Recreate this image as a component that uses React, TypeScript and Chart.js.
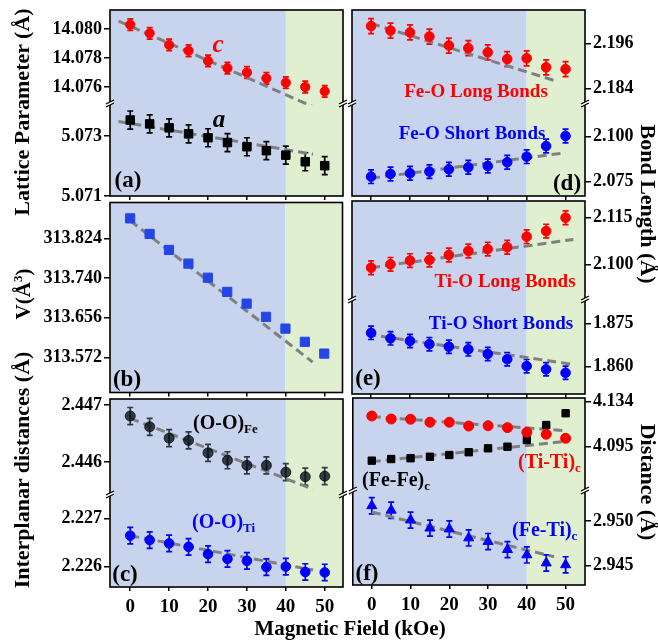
import React, { useEffect, useRef } from 'react';
import { Chart, registerables } from 'chart.js';
Chart.register(...registerables);

const FONT = '"Liberation Serif", "Times New Roman", serif';

// ---------- data ----------
const FIELD = [0, 5, 10, 15, 20, 25, 30, 35, 40, 45, 50];
const X_TICKS = [0, 10, 20, 30, 40, 50];

// (a) lattice parameters
const LATTICE_C = [14.0803, 14.0797, 14.0789, 14.0785, 14.0778, 14.0773, 14.077, 14.0766, 14.0763, 14.076, 14.0757];
const LATTICE_C_ERR = 0.0004;
const LATTICE_C_FIT_X = [-3, 47];
const LATTICE_C_FIT = [14.08055, 14.07464];
const LATTICE_A = [5.07353, 5.0734, 5.07327, 5.07307, 5.07294, 5.07278, 5.07264, 5.07251, 5.07236, 5.07214, 5.07201];
const LATTICE_A_ERR = 0.0003;
const LATTICE_A_FIT_X = [-3, 47];
const LATTICE_A_FIT = [5.07348, 5.07239];
const TICKS_C = [14.076, 14.078, 14.08];
const TICKS_A = [5.071, 5.072, 5.073];

// (b) volume
const VOLUME = [313.867, 313.834, 313.8, 313.771, 313.741, 313.711, 313.686, 313.658, 313.633, 313.605, 313.58];
const VOLUME_FIT_X = [0, 47];
const VOLUME_FIT = [313.862, 313.562];
const TICKS_V = [313.572, 313.656, 313.74, 313.824];

// (c) interplanar distances
const OO_FE = [2.44681, 2.44662, 2.44642, 2.44638, 2.44616, 2.44603, 2.44594, 2.44594, 2.44582, 2.44574, 2.44575];
const OO_FE_ERR = 0.00015;
const OO_FE_FIT_X = [0, 47];
const OO_FE_FIT = [2.44677, 2.44552];
const OO_TI = [2.22664, 2.22655, 2.22648, 2.22641, 2.22626, 2.22616, 2.22612, 2.22599, 2.226, 2.22589, 2.22588];
const OO_TI_ERR = 0.00017;
const OO_TI_FIT_X = [0, 47];
const OO_TI_FIT = [2.22664, 2.22593];
const TICKS_OOFE = [2.446, 2.447];
const TICKS_OOTI = [2.226, 2.227];

// (d) Fe-O bonds
const FEO_LONG = [2.2006, 2.1994, 2.1989, 2.1978, 2.1954, 2.1947, 2.1936, 2.1918, 2.192, 2.1896, 2.1891];
const FEO_LONG_ERR = 0.002;
const FEO_LONG_FIT_X = [0, 48];
const FEO_LONG_FIT = [2.2013, 2.1858];
const FEO_SHORT = [2.0778, 2.0793, 2.0797, 2.0806, 2.0819, 2.083, 2.0837, 2.0858, 2.0889, 2.0948, 2.1004];
const FEO_SHORT_ERR = 0.0038;
const FEO_SHORT_FIT_X = [0, 50];
const FEO_SHORT_FIT = [2.0769, 2.0911];
const TICKS_FEOL = [2.184, 2.196];
const TICKS_FEOS = [2.075, 2.1];

// (e) Ti-O bonds
const TIO_LONG = [2.0989, 2.1, 2.1012, 2.1014, 2.103, 2.1043, 2.1049, 2.1055, 2.1089, 2.1107, 2.115];
const TIO_LONG_ERR = 0.0022;
const TIO_LONG_FIT_X = [0, 52];
const TIO_LONG_FIT = [2.0989, 2.108];
const TIO_SHORT = [1.8717, 1.8698, 1.8689, 1.8678, 1.8669, 1.866, 1.8644, 1.8626, 1.8602, 1.8591, 1.8579];
const TIO_SHORT_ERR = 0.0023;
const TIO_SHORT_FIT_X = [-1, 52];
const TIO_SHORT_FIT = [1.8712, 1.8608];
const TICKS_TIOL = [2.1, 2.115];
const TICKS_TIOS = [1.86, 1.875];

// (f) distances
const TITI = [4.1216, 4.119, 4.1188, 4.1162, 4.1162, 4.1129, 4.1132, 4.1115, 4.1075, 4.1058, 4.1023];
const TITI_FIT_X = [0, 50];
const TITI_FIT = [4.121, 4.1089];
const FEFE = [4.0829, 4.0843, 4.085, 4.0863, 4.0878, 4.0902, 4.0936, 4.095, 4.1008, 4.1138, 4.124];
const FEFE_FIT_X = [0, 51];
const FEFE_FIT = [4.082, 4.0999];
const FETI = [2.9517, 2.9512, 2.9501, 2.9492, 2.9491, 2.9481, 2.9477, 2.9468, 2.9462, 2.9453, 2.9451];
const FETI_ERR = 0.0009;
const FETI_FIT_X = [0, 47];
const FETI_FIT = [2.951, 2.946];
const TICKS_FEFE = [4.095, 4.134];
const TICKS_FETI = [2.945, 2.95];

const REGION_SPLIT = 40;

// ---------- styles ----------
const RED = '#ff0000';
const BLUE = '#0000ff';
const BLACK = '#000000';
const VBLUE = '#2446e6';
const DARK = 'rgba(0,8,16,0.76)';
const FIT_COLOR = '#808080';
const BG_BLUE = '#c8d4ee';
const BG_GREEN = '#dfefcf';

type Seg = { min: number; max: number; ticks: number[]; weight: number };
type Ser = { y: number[]; color: string; style: string; r: number; err?: number; seg: number };
type Fit = { x: number[]; y: number[]; seg: number };
type Panel = {
  side: 'left' | 'right';
  box: { left: number; top: number; width: number; height: number };
  padding: { left: number; right: number; top: number; bottom: number };
  xh: number;
  yw: number;
  xmin: number;
  xmax: number;
  showX: boolean;
  segs: Seg[];
  series: Ser[];
  fits: Fit[];
};

const LEFT_BOX = { left: 0, width: 350 };
const RIGHT_BOX = { left: 346, width: 312 };

const PANELS: Panel[] = [
  {
    side: 'left', box: { ...LEFT_BOX, top: 0, height: 210 }, padding: { left: 0, right: 7, top: 10, bottom: 0 },
    xh: 14, yw: 110, xmin: -5.2, xmax: 54.7, showX: false,
    segs: [
      { min: 14.07476, max: 14.08131, ticks: TICKS_C, weight: 95 },
      { min: 5.071, max: 5.07403, ticks: TICKS_A, weight: 91 },
    ],
    series: [
      { y: LATTICE_C, color: RED, style: 'circle', r: 4.6, err: LATTICE_C_ERR, seg: 0 },
      { y: LATTICE_A, color: BLACK, style: 'rect', r: 6, err: LATTICE_A_ERR, seg: 1 },
    ],
    fits: [
      { x: LATTICE_C_FIT_X, y: LATTICE_C_FIT, seg: 0 },
      { x: LATTICE_A_FIT_X, y: LATTICE_A_FIT, seg: 1 },
    ],
  },
  {
    side: 'left', box: { ...LEFT_BOX, top: 195, height: 205 }, padding: { left: 0, right: 7, top: 6, bottom: 0 },
    xh: 6, yw: 110, xmin: -5.2, xmax: 54.7, showX: false,
    segs: [{ min: 313.4974, max: 313.9007, ticks: TICKS_V, weight: 1 }],
    series: [{ y: VOLUME, color: VBLUE, style: 'rect', r: 6.5, seg: 0 }],
    fits: [{ x: VOLUME_FIT_X, y: VOLUME_FIT, seg: 0 }],
  },
  {
    side: 'left', box: { ...LEFT_BOX, top: 389, height: 252 }, padding: { left: 0, right: 7, top: 10, bottom: 0 },
    xh: 54, yw: 110, xmin: -5.2, xmax: 54.7, showX: true,
    segs: [
      { min: 2.4454, max: 2.44711, ticks: TICKS_OOFE, weight: 97 },
      { min: 2.22558, max: 2.22746, ticks: TICKS_OOTI, weight: 91 },
    ],
    series: [
      { y: OO_FE, color: DARK, style: 'circle', r: 5, err: OO_FE_ERR, seg: 0 },
      { y: OO_TI, color: BLUE, style: 'circle', r: 4.8, err: OO_TI_ERR, seg: 1 },
    ],
    fits: [
      { x: OO_FE_FIT_X, y: OO_FE_FIT, seg: 0 },
      { x: OO_TI_FIT_X, y: OO_TI_FIT, seg: 1 },
    ],
  },
  {
    side: 'right', box: { ...RIGHT_BOX, top: 0, height: 210 }, padding: { left: 6, right: 0, top: 10, bottom: 0 },
    xh: 14, yw: 73, xmin: -4.9, xmax: 55, showX: false,
    segs: [
      { min: 2.17955, max: 2.20488, ticks: TICKS_FEOL, weight: 95 },
      { min: 2.06706, max: 2.11761, ticks: TICKS_FEOS, weight: 91 },
    ],
    series: [
      { y: FEO_LONG, color: RED, style: 'circle', r: 4.8, err: FEO_LONG_ERR, seg: 0 },
      { y: FEO_SHORT, color: BLUE, style: 'circle', r: 4.8, err: FEO_SHORT_ERR, seg: 1 },
    ],
    fits: [
      { x: FEO_LONG_FIT_X, y: FEO_LONG_FIT, seg: 0 },
      { x: FEO_SHORT_FIT_X, y: FEO_SHORT_FIT, seg: 1 },
    ],
  },
  {
    side: 'right', box: { ...RIGHT_BOX, top: 195, height: 205 }, padding: { left: 6, right: 0, top: 6, bottom: 0 },
    xh: 6, yw: 73, xmin: -4.9, xmax: 55, showX: false,
    segs: [
      { min: 2.08819, max: 2.12038, ticks: TICKS_TIOL, weight: 100 },
      { min: 1.85057, max: 1.88271, ticks: TICKS_TIOS, weight: 93 },
    ],
    series: [
      { y: TIO_LONG, color: RED, style: 'circle', r: 4.8, err: TIO_LONG_ERR, seg: 0 },
      { y: TIO_SHORT, color: BLUE, style: 'circle', r: 4.8, err: TIO_SHORT_ERR, seg: 1 },
    ],
    fits: [
      { x: TIO_LONG_FIT_X, y: TIO_LONG_FIT, seg: 0 },
      { x: TIO_SHORT_FIT_X, y: TIO_SHORT_FIT, seg: 1 },
    ],
  },
  {
    side: 'right', box: { ...RIGHT_BOX, top: 388, height: 253 }, padding: { left: 6, right: 0, top: 10, bottom: 0 },
    xh: 56, yw: 73, xmin: -4.9, xmax: 55, showX: true,
    segs: [
      { min: 4.05574, max: 4.13721, ticks: TICKS_FEFE, weight: 94 },
      { min: 2.94284, max: 2.95324, ticks: TICKS_FETI, weight: 93 },
    ],
    series: [
      { y: TITI, color: RED, style: 'circle', r: 5, seg: 0 },
      { y: FEFE, color: BLACK, style: 'rect', r: 5.2, seg: 0 },
      { y: FETI, color: BLUE, style: 'triangle', r: 5.8, err: FETI_ERR, seg: 1 },
    ],
    fits: [
      { x: TITI_FIT_X, y: TITI_FIT, seg: 0 },
      { x: FEFE_FIT_X, y: FEFE_FIT, seg: 0 },
      { x: FETI_FIT_X, y: FETI_FIT, seg: 1 },
    ],
  },
];

// ---------- plugins ----------
const panelPlugin = {
  id: 'panelDeco',
  beforeDraw(chart: any) {
    const { ctx, chartArea: a, scales } = chart;
    const xs = scales.x;
    const xs40 = xs.getPixelForValue(REGION_SPLIT);
    ctx.save();
    ctx.fillStyle = BG_BLUE;
    ctx.fillRect(a.left, a.top, xs40 - a.left, a.bottom - a.top);
    ctx.fillStyle = BG_GREEN;
    ctx.fillRect(xs40, a.top, a.right - xs40, a.bottom - a.top);
    ctx.restore();
  },
  beforeDatasetsDraw(chart: any) {
    const { ctx } = chart;
    chart.data.datasets.forEach((ds: any, i: number) => {
      if (!ds.errorBar) return;
      const meta = chart.getDatasetMeta(i);
      const ys = chart.scales[ds.yAxisID];
      ctx.save();
      ctx.strokeStyle = ds.borderColor;
      ctx.lineWidth = 1.7;
      ds.data.forEach((p: any, j: number) => {
        const x = meta.data[j].x;
        const y1 = ys.getPixelForValue(p.y + ds.errorBar);
        const y2 = ys.getPixelForValue(p.y - ds.errorBar);
        ctx.beginPath();
        ctx.moveTo(x, y1);
        ctx.lineTo(x, y2);
        ctx.moveTo(x - 3, y1);
        ctx.lineTo(x + 3, y1);
        ctx.moveTo(x - 3, y2);
        ctx.lineTo(x + 3, y2);
        ctx.stroke();
      });
      ctx.restore();
    });
  },
  afterDraw(chart: any) {
    const { ctx, chartArea: a } = chart;
    ctx.save();
    ctx.strokeStyle = '#000';
    ctx.lineWidth = 1.6;
    ctx.strokeRect(a.left, a.top, a.right - a.left, a.bottom - a.top);
    const breaks: number[] = chart.options.plugins.panelDeco.breaks
      .map((id: string) => chart.scales[id].bottom);
    breaks.forEach((y: number) => {
      [a.left, a.right].forEach((x: number) => {
        ctx.fillStyle = '#fff';
        ctx.beginPath();
        ctx.moveTo(x - 4, y + 2);
        ctx.lineTo(x + 4, y - 2);
        ctx.lineTo(x + 4, y - 5);
        ctx.lineTo(x - 4, y - 1);
        ctx.closePath();
        ctx.fill();
        ctx.lineWidth = 1.3;
        ctx.beginPath();
        ctx.moveTo(x - 4, y + 2);
        ctx.lineTo(x + 4, y - 2);
        ctx.moveTo(x - 4, y - 1);
        ctx.lineTo(x + 4, y - 5);
        ctx.stroke();
      });
    });
    ctx.restore();
  },
};

function makeConfig(p: Panel): any {
  const tickFont = { family: FONT, size: 18, weight: 'bold' as const };
  const scales: any = {
    x: {
      type: 'linear',
      min: p.xmin,
      max: p.xmax,
      afterBuildTicks: (s: any) => { s.ticks = X_TICKS.map((v) => ({ value: v })); },
      ticks: { display: p.showX, font: { ...tickFont, size: 19 }, color: '#000', padding: 5, maxRotation: 0 },
      grid: { drawOnChartArea: false, drawTicks: true, tickLength: 4, color: '#000', lineWidth: 1.5 },
      border: { display: false },
      afterFit: (s: any) => { s.height = p.xh; s.paddingLeft = 0; s.paddingRight = 0; },
    },
  };
  const segIds = p.segs.map((_, i) => 'y' + i);
  const order = p.side === 'left' ? [...p.segs.keys()].reverse() : [...p.segs.keys()];
  order.forEach((i) => {
    const seg = p.segs[i];
    scales[segIds[i]] = {
      type: 'linear',
      position: p.side,
      stack: 'ystack',
      stackWeight: seg.weight,
      min: seg.min,
      max: seg.max,
      afterBuildTicks: (s: any) => { s.ticks = seg.ticks.map((v) => ({ value: v })); },
      ticks: { font: tickFont, color: '#000', padding: 2, callback: (v: any) => Number(v).toFixed(3) },
      grid: { drawOnChartArea: false, drawTicks: true, tickLength: 6, color: '#000', lineWidth: 1.5 },
      border: { display: false },
      afterFit: (s: any) => { s.width = p.yw; s.paddingTop = 0; s.paddingBottom = 0; },
    };
  });
  const datasets: any[] = [];
  p.series.forEach((s) => {
    datasets.push({
      data: FIELD.map((x, j) => ({ x, y: s.y[j] })),
      yAxisID: segIds[s.seg],
      pointStyle: s.style,
      pointRadius: s.r,
      backgroundColor: s.color,
      borderColor: s.color,
      borderWidth: 1,
      showLine: false,
      errorBar: s.err,
    });
  });
  p.fits.forEach((f) => {
    datasets.push({
      data: f.x.map((x, j) => ({ x, y: f.y[j] })),
      yAxisID: segIds[f.seg],
      showLine: true,
      pointRadius: 0,
      borderColor: FIT_COLOR,
      borderWidth: 3,
      borderDash: [9, 5],
      fill: false,
    });
  });
  return {
    type: 'scatter',
    data: { datasets },
    options: {
      responsive: false,
      animation: false,
      devicePixelRatio: 1,
      layout: { padding: p.padding },
      scales,
      plugins: {
        legend: { display: false },
        tooltip: { enabled: false },
        panelDeco: { breaks: segIds.slice(0, -1) },
      },
    },
    plugins: [panelPlugin],
  };
}

const txt = (extra: React.CSSProperties): React.CSSProperties => ({
  position: 'absolute',
  fontFamily: FONT,
  fontWeight: 'bold',
  whiteSpace: 'nowrap',
  lineHeight: 1,
  ...extra,
});
const centered = 'translate(-50%,-50%)';
const subStyle: React.CSSProperties = { fontSize: 13, verticalAlign: -4 };

export default function App() {
  const refs = [useRef<HTMLCanvasElement>(null), useRef<HTMLCanvasElement>(null), useRef<HTMLCanvasElement>(null),
    useRef<HTMLCanvasElement>(null), useRef<HTMLCanvasElement>(null), useRef<HTMLCanvasElement>(null)];
  useEffect(() => {
    const charts = PANELS.map((p, i) => new Chart(refs[i].current as HTMLCanvasElement, makeConfig(p)));
    return () => charts.forEach((c) => c.destroy());
  }, []);
  return (
    <div style={{ position: 'absolute', left: 0, top: 0, width: 658, height: 641, background: '#fff', overflow: 'hidden' }}>
      {PANELS.map((p, i) => (
        <canvas key={i} ref={refs[i]} width={p.box.width} height={p.box.height}
          style={{ position: 'absolute', left: p.box.left, top: p.box.top, width: p.box.width, height: p.box.height }} />
      ))}
      {/* axis titles */}
      <div style={txt({ left: 22, top: 112, fontSize: 22, transform: centered + ' rotate(-90deg)' })}>Lattice Parameter (Å)</div>
      <div style={txt({ left: 22, top: 294, fontSize: 21, transform: centered + ' rotate(-90deg)' })}>V(Å<sup style={{ fontSize: 13 }}>3</sup>)</div>
      <div style={txt({ left: 22, top: 470, fontSize: 22, transform: centered + ' rotate(-90deg)' })}>Interplanar distances (Å)</div>
      <div style={txt({ left: 648, top: 204, fontSize: 22, transform: centered + ' rotate(90deg)' })}>Bond Length (Å)</div>
      <div style={txt({ left: 648, top: 482, fontSize: 22, transform: centered + ' rotate(90deg)' })}>Distance (Å)</div>
      <div style={txt({ left: 350, top: 628, fontSize: 21, transform: centered })}>Magnetic Field (kOe)</div>
      {/* panel letters */}
      <div style={txt({ left: 128, top: 179, fontSize: 23, transform: centered })}>(a)</div>
      <div style={txt({ left: 127, top: 378, fontSize: 23, transform: centered })}>(b)</div>
      <div style={txt({ left: 125, top: 573, fontSize: 23, transform: centered })}>(c)</div>
      <div style={txt({ left: 567, top: 182, fontSize: 23, transform: centered })}>(d)</div>
      <div style={txt({ left: 368, top: 377, fontSize: 23, transform: centered })}>(e)</div>
      <div style={txt({ left: 367, top: 572, fontSize: 23, transform: centered })}>(f)</div>
      {/* annotations */}
      <div style={txt({ left: 218, top: 43, fontSize: 25, fontStyle: 'italic', color: RED, transform: centered })}>c</div>
      <div style={txt({ left: 219, top: 118, fontSize: 25, fontStyle: 'italic', color: BLACK, transform: centered })}>a</div>
      <div style={txt({ left: 193, top: 423, fontSize: 20, color: BLACK, transform: 'translate(0,-50%)' })}>(O-O)<span style={subStyle}>Fe</span></div>
      <div style={txt({ left: 192, top: 522, fontSize: 20, color: BLUE, transform: 'translate(0,-50%)' })}>(O-O)<span style={subStyle}>Ti</span></div>
      <div style={txt({ left: 476, top: 90, fontSize: 19, color: RED, transform: centered })}>Fe-O Long Bonds</div>
      <div style={txt({ left: 472, top: 132, fontSize: 19, color: BLUE, transform: centered })}>Fe-O Short Bonds</div>
      <div style={txt({ left: 505, top: 280, fontSize: 19, color: RED, transform: centered })}>Ti-O Long Bonds</div>
      <div style={txt({ left: 501, top: 322, fontSize: 19, color: BLUE, transform: centered })}>Ti-O Short Bonds</div>
      <div style={txt({ left: 518, top: 462, fontSize: 20, color: RED, transform: 'translate(0,-50%)' })}>(Ti-Ti)<span style={subStyle}>c</span></div>
      <div style={txt({ left: 362, top: 480, fontSize: 20, color: BLACK, transform: 'translate(0,-50%)' })}>(Fe-Fe)<span style={subStyle}>c</span></div>
      <div style={txt({ left: 512, top: 530, fontSize: 20, color: BLUE, transform: 'translate(0,-50%)' })}>(Fe-Ti)<span style={subStyle}>c</span></div>
    </div>
  );
}
